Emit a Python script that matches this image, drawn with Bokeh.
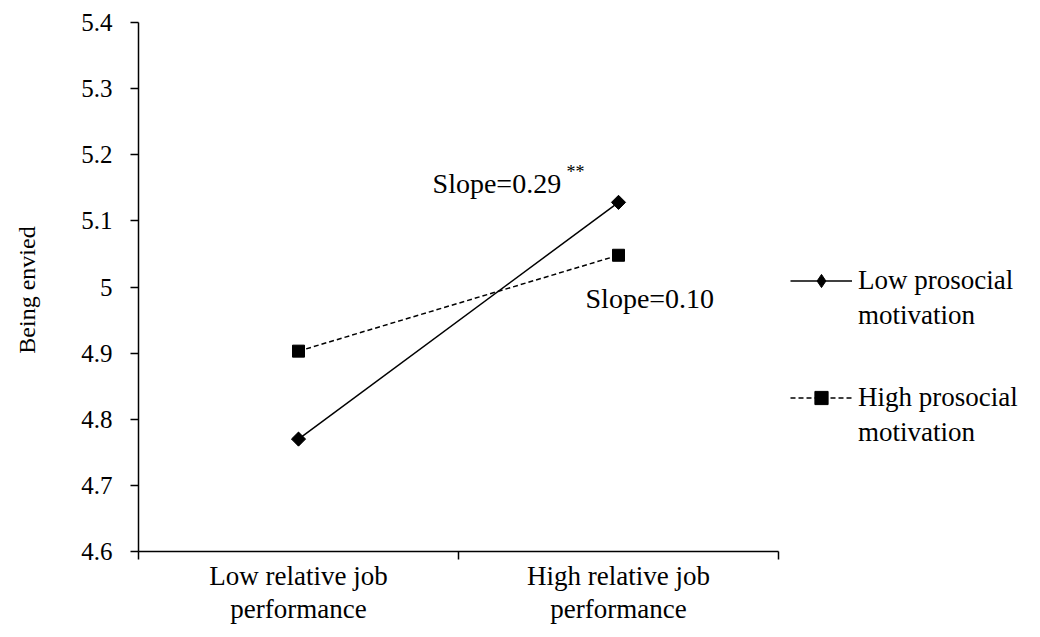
import math
from bokeh.plotting import figure
from bokeh.models import Range1d, FixedTicker, Legend, LegendItem, Label
from bokeh.embed import file_html
from bokeh.resources import INLINE

categories = ["Low relative job\nperformance", "High relative job\nperformance"]
low_prosocial = [4.77, 5.128]
high_prosocial = [4.903, 5.048]
y_ticks = [4.6, 4.7, 4.8, 4.9, 5.0, 5.1, 5.2, 5.3, 5.4]
series_first_lines = ["Low prosocial", "High prosocial"]
series_second_line = "motivation"
slope_texts = ["Slope=0.29", "Slope=0.10"]
slope_stars = "**"

FONT = "Liberation Serif"

W, H = 1040, 637
LEFT, TOP, BOTTOM = 138, 22, 86
AXIS_W = 640  # pixel width of the categorical part of the x axis
frame_w = W - LEFT
n = len(categories)
xs = [i + 0.5 for i in range(n)]

p = figure(width=W, height=H, output_backend="svg", toolbar_location=None,
           x_range=Range1d(0, n * frame_w / AXIS_W), y_range=Range1d(y_ticks[0], y_ticks[-1]),
           min_border_left=LEFT, min_border_right=0, min_border_top=TOP, min_border_bottom=BOTTOM)
p.outline_line_color = None
p.xgrid.visible = False
p.ygrid.visible = False
p.background_fill_color = "white"

# y axis
ya = p.yaxis[0]
ya.ticker = FixedTicker(ticks=y_ticks, minor_ticks=[])
ya.major_label_overrides = {5.0: "5"}
ya.major_tick_in = 0
ya.major_tick_out = 8
ya.major_label_standoff = 18
ya.major_label_text_font = FONT
ya.major_label_text_font_size = "25px"
ya.major_label_text_color = "black"
ya.axis_line_color = "black"
ya.axis_line_width = 1.5
ya.major_tick_line_width = 1.5
ya.axis_label = "Being  envied"
ya.axis_label_text_font = FONT
ya.axis_label_text_font_style = "normal"
ya.axis_label_text_font_size = "24px"
ya.axis_label_text_color = "black"
ya.axis_label_standoff = 38

# x axis
xa = p.xaxis[0]
xa.bounds = (0, n)
xa.ticker = FixedTicker(ticks=xs, minor_ticks=list(range(n + 1)))
xa.major_label_overrides = {x: c for x, c in zip(xs, categories)}
xa.major_tick_line_color = None
xa.major_tick_in = 0
xa.major_tick_out = 8
xa.minor_tick_in = 0
xa.minor_tick_out = 8
xa.minor_tick_line_width = 1.5
xa.minor_tick_line_color = "black"
xa.axis_line_color = "black"
xa.axis_line_width = 1.5
xa.major_label_standoff = 1
xa.major_label_text_font = FONT
xa.major_label_text_font_size = "27px"
xa.major_label_text_line_height = 1.1
xa.major_label_text_color = "black"

l1 = p.line(xs, low_prosocial, line_color="black", line_width=1.5)
# diamond key (used by the legend), hidden beneath the rotated-square markers
key1 = p.scatter(xs, low_prosocial, marker="diamond", size=13, color="black")
m1 = p.scatter(xs, low_prosocial, marker="square", angle=math.pi / 4, size=10, color="black")
l2 = p.line(xs, high_prosocial, line_color="black", line_width=1.5, line_dash="5 3")
m2 = p.scatter(xs, high_prosocial, marker="square", size=12, color="black")
dummy = p.line(x=[], y=[], line_alpha=0)


def make_legend(first, renderers, loc):
    lg = Legend(items=[LegendItem(label=first, renderers=renderers),
                       LegendItem(label=series_second_line, renderers=[dummy])],
                location=loc, glyph_width=62, glyph_height=33, label_standoff=6,
                label_text_font=FONT, label_text_font_size="27px", label_text_color="black",
                label_height=29, spacing=2, padding=0, margin=0,
                border_line_color=None, background_fill_alpha=0)
    p.add_layout(lg, "center")


make_legend(series_first_lines[0], [l1, key1], (652, 219))
make_legend(series_first_lines[1], [l2, m2], (652, 102))

p.add_layout(Label(x=0.919, y=5.156, text=slope_texts[0], text_font=FONT, text_font_size="28px",
                   text_color="black", text_baseline="middle"))
p.add_layout(Label(x=1.3375, y=5.1746, text=slope_stars, text_font=FONT, text_font_size="18px",
                   text_color="black", text_baseline="middle"))
p.add_layout(Label(x=1.397, y=4.982, text=slope_texts[1], text_font=FONT, text_font_size="28px",
                   text_color="black", text_baseline="middle"))

open("out.html", "w").write(file_html(p, INLINE))
